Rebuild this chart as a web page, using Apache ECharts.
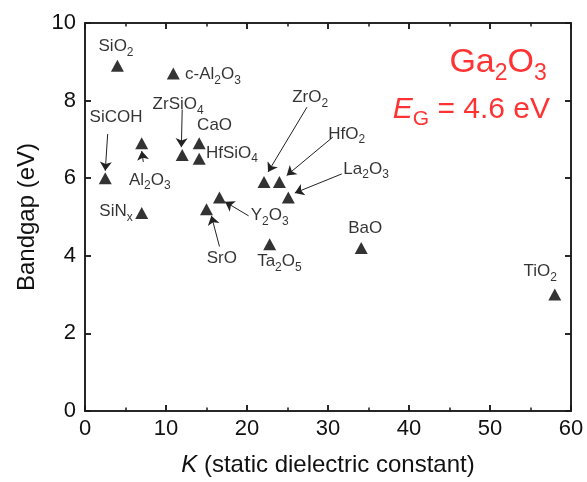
<!DOCTYPE html>
<html>
<head>
<meta charset="utf-8">
<script src="https://cdn.jsdelivr.net/npm/echarts@6/dist/echarts.min.js"></script>
<style>
html,body{margin:0;padding:0;background:#fff;}
#chart{width:587px;height:482px;}
</style>
</head>
<body>
<div id="chart"></div>
<script>
// ---- data ----
var materials = ['SiO_2','c-Al_2O_3','SiCOH','Al_2O_3','ZrSiO_4','CaO','HfSiO_4','SiN_x','ZrO_2','HfO_2','La_2O_3','Y_2O_3','SrO','Ta_2O_5','BaO','TiO_2'];
var kValues  = [4.0, 10.9, 2.5, 7.0, 12.0, 14.1, 14.1, 7.0, 22.1, 24.0, 25.1, 16.6, 15.0, 22.8, 34.1, 58.0];
var egValues = [8.9, 8.7, 6.0, 6.9, 6.6, 6.9, 6.5, 5.1, 5.9, 5.9, 5.5, 5.5, 5.2, 4.3, 4.2, 3.0];

// label anchor positions (data coordinates)
var labelK  = [3.83, 15.8, 3.83, 8.0, 11.5, 16.0, 18.15, 3.83, 27.8, 32.3, 34.7, 22.8, 16.9, 24.0, 34.6, 56.2];
var labelEg = [9.39, 8.67, 7.57, 5.95, 7.9, 7.37, 6.65, 5.14, 8.08, 7.14, 6.24, 5.04, 3.94, 3.86, 4.7, 3.6];

// arrows: from label to point (data coordinates)
var arrowFrom = [[2.8,7.14],[7.2,6.42],[12.0,7.77],[27.4,7.83],[30.6,7.06],[31.7,6.11],[20.2,5.03],[16.6,4.24]];
var arrowTo   = [[2.5,6.19],[7.0,6.70],[11.9,6.80],[22.6,6.16],[24.9,6.07],[25.9,5.62],[17.3,5.39],[15.6,5.03]];

// axis ticks
var xTickValues  = [0, 10, 20, 30, 40, 50, 60];
var xMinorValues = [5, 15, 25, 35, 45, 55];
var yTickValues  = [0, 2, 4, 6, 8, 10];
var xTicks = {min:0, max:60, interval:10};
var yTicks = {min:0, max:10, interval:2};

var noteTitle = 'Ga_2O_3';
var notePos = [51.0, 8.98];
var noteEg = '4.6';
var noteEgPos = [47.7, 7.77];

// ---- chart ----
var FONT = 'Liberation Sans, Arial, Helvetica, sans-serif';
function toRich(s, n, sub){
  var out = '';
  var parts = s.split('_');
  out += '{'+n+'|'+parts[0]+'}';
  for (var i=1;i<parts.length;i++){
    var p = parts[i];
    out += '{'+sub+'|'+p.charAt(0)+'}';
    if (p.length>1) out += '{'+n+'|'+p.slice(1)+'}';
  }
  return out;
}

var pts = kValues.map(function(k,i){ return [k, egValues[i]]; });
var labs = labelK.map(function(k,i){ return [k, labelEg[i], materials[i]]; });
var arrows = arrowFrom.map(function(f,i){ return [{coord:f},{coord:arrowTo[i]}]; });

// tick segments (inside the frame), lengths converted from px to data units
var xMajLen = 6 / 39.1 * (yTicks.max - yTicks.min) / 10 * 1.0;
var xMinLen = 3.5 / 39.1;
var yMajLen = 6 / 8.1;
var tickSegs = [];
xTickValues.forEach(function(v){
  tickSegs.push([{coord:[v, yTicks.min]},{coord:[v, yTicks.min + xMajLen]}]);
  tickSegs.push([{coord:[v, yTicks.max]},{coord:[v, yTicks.max - xMajLen]}]);
});
xMinorValues.forEach(function(v){
  tickSegs.push([{coord:[v, yTicks.min]},{coord:[v, yTicks.min + xMinLen]}]);
  tickSegs.push([{coord:[v, yTicks.max]},{coord:[v, yTicks.max - xMinLen]}]);
});
yTickValues.forEach(function(v){
  tickSegs.push([{coord:[xTicks.min, v]},{coord:[xTicks.min + yMajLen, v]}]);
  tickSegs.push([{coord:[xTicks.max, v]},{coord:[xTicks.max - yMajLen, v]}]);
});

var AX = '#1a1a1a';
function xAxisDef(pos, showLabel){
  return {
    type:'value', gridIndex:0, position:pos, min:xTicks.min, max:xTicks.max, interval:xTicks.interval,
    axisLine:{show:true, onZero:false, lineStyle:{color:AX, width:1.5}},
    axisTick:{show:true, inside:true, length:6, lineStyle:{color:AX, width:1.5}},
    splitLine:{show:false},
    axisLabel:{show:showLabel, fontSize:22, color:'#111', fontFamily:FONT, margin:7},
    name: showLabel ? '{i|K} (static dielectric constant)' : '',
    nameLocation:'middle', nameGap:42,
    nameTextStyle:{fontSize:24, color:'#111', fontFamily:FONT,
      rich:{i:{fontSize:24, fontStyle:'italic', color:'#111', fontFamily:FONT}}}
  };
}
function yAxisDef(pos, showLabel){
  return {
    type:'value', gridIndex:0, position:pos, min:yTicks.min, max:yTicks.max, interval:yTicks.interval,
    axisLine:{show:true, onZero:false, lineStyle:{color:AX, width:1.5}},
    axisTick:{show:true, inside:true, length:6, lineStyle:{color:AX, width:1.5}},
    splitLine:{show:false},
    axisLabel:{show:showLabel, fontSize:22, color:'#111', fontFamily:FONT, margin:9},
    name: showLabel ? 'Bandgap (eV)' : '',
    nameLocation:'middle', nameGap:46, nameRotate:90,
    nameTextStyle:{fontSize:24, color:'#111', fontFamily:FONT}
  };
}

var richLab = {
  n:{fontSize:17, color:'#000', fontFamily:FONT},
  s:{fontSize:12, color:'#000', fontFamily:FONT, padding:[12,0,0,0]}
};
var RED = '#ff0000';
var richNote = {
  N:{fontSize:34, color:RED, fontFamily:FONT},
  S:{fontSize:23, color:RED, fontFamily:FONT, padding:[22,0,0,0]},
  n:{fontSize:30, color:RED, fontFamily:FONT},
  s:{fontSize:21, color:RED, fontFamily:FONT, padding:[20,0,0,0]},
  I:{fontSize:30, color:RED, fontFamily:FONT, fontStyle:'italic'}
};

var chart = echarts.init(document.getElementById('chart'));
chart.setOption({
  animation:false,
  backgroundColor:'#fff',
  grid:{left:85, right:16, top:23, bottom:68, containLabel:false,
        show:true, borderColor:AX, borderWidth:1.5, backgroundColor:'transparent'},
  xAxis:[xAxisDef('bottom', true), xAxisDef('top', false)],
  yAxis:[yAxisDef('left', true), yAxisDef('right', false)],
  series:[
    {
      type:'scatter', name:'materials', xAxisIndex:0, yAxisIndex:0,
      symbol:'triangle', symbolSize:[13,12],
      itemStyle:{color:'#000'},
      data:pts, silent:true, z:3
    },
    {
      type:'scatter', name:'labels', xAxisIndex:0, yAxisIndex:0,
      symbolSize:0, data:labs, silent:true, z:4,
      label:{show:true, position:'inside', align:'center', verticalAlign:'middle',
        formatter:function(p){ return toRich(p.data[2], 'n', 's'); },
        rich:richLab},
      markLine:{
        silent:true, symbol:['none','arrow'], symbolSize:9,
        lineStyle:{color:'#222', width:1, type:'solid'},
        itemStyle:{color:'#222'},
        label:{show:false}, emphasis:{disabled:true},
        data:arrows
      }
    },
    {
      type:'scatter', name:'ticks', xAxisIndex:0, yAxisIndex:0,
      symbolSize:0, silent:true, data:[], z:5,
      markLine:{
        silent:true, symbol:['none','none'], clip:false,
        lineStyle:{color:AX, width:1.5, type:'solid'},
        label:{show:false}, emphasis:{disabled:true},
        data:tickSegs
      }
    },
    {
      type:'scatter', name:'note', xAxisIndex:1, yAxisIndex:1,
      symbolSize:0, silent:true, z:4,
      data:[[notePos[0], notePos[1], 't'],[noteEgPos[0], noteEgPos[1], 'e']],
      label:{show:true, position:'inside', align:'center', verticalAlign:'middle',
        formatter:function(p){
          if (p.data[2]==='t') return toRich(noteTitle, 'N', 'S');
          return '{I|E}{s|G}{n| = ' + noteEg + ' eV}';
        },
        rich:richNote}
    }
  ]
});
</script>
</body>
</html>
